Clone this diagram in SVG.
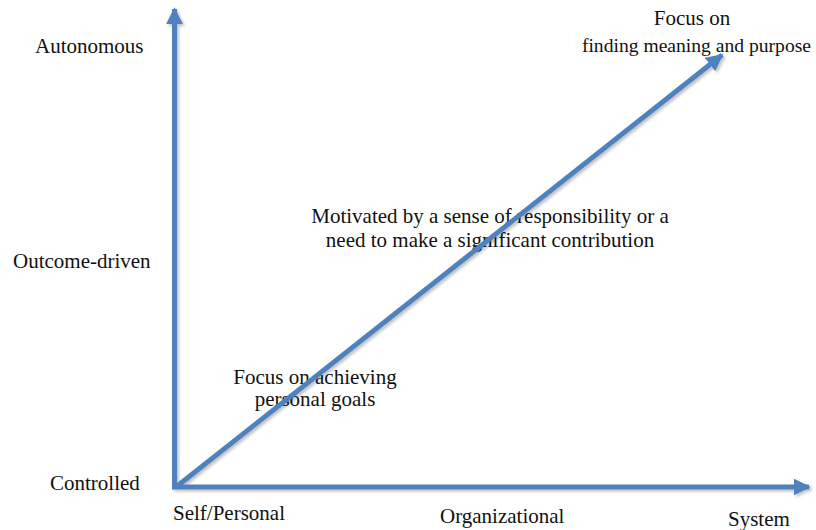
<svg xmlns="http://www.w3.org/2000/svg" width="816" height="530" viewBox="0 0 816 530">
  <style>
    .lbl { font-family: "Liberation Serif", "Times New Roman", serif; font-size: 21px; fill: #111; }
    .ax { stroke: #4F81BD; stroke-width: 5; fill: none; }
  </style>
  <defs>
    <marker id="head" viewBox="0 0 10 10" refX="9" refY="5" markerWidth="3.4" markerHeight="3.4" orient="auto" markerUnits="strokeWidth">
      <path d="M0,0 L10,5 L0,10 Z" fill="#4F81BD"/>
    </marker>
    <!-- faint drop shadow under the axis lines -->
    <filter id="soft" filterUnits="userSpaceOnUse" x="0" y="0" width="816" height="530">
      <feGaussianBlur in="SourceAlpha" stdDeviation="1.5"/>
      <feOffset dx="2" dy="2" result="b"/>
      <feComponentTransfer><feFuncA type="linear" slope="0.25"/></feComponentTransfer>
      <feMerge><feMergeNode/><feMergeNode in="SourceGraphic"/></feMerge>
    </filter>
  </defs>
  <rect width="816" height="530" fill="#fff"/>

  <!-- vertical scale labels -->
  <g id="autonomous"><text class="lbl" x="35" y="53">Autonomous</text></g>
  <g id="outcome-driven"><text class="lbl" x="13" y="268">Outcome-driven</text></g>
  <g id="controlled"><text class="lbl" x="50" y="490">Controlled</text></g>

  <!-- horizontal scale labels -->
  <g id="self-personal"><text class="lbl" x="173" y="520">Self/Personal</text></g>
  <g id="organizational"><text class="lbl" x="440" y="523">Organizational</text></g>
  <g id="system"><text class="lbl" x="728" y="526">System</text></g>

  <!-- stages along the diagonal -->
  <g id="stage-personal">
    <text class="lbl" x="315" y="384" text-anchor="middle">Focus on achieving</text>
    <text class="lbl" x="315" y="406" text-anchor="middle">personal goals</text>
  </g>
  <g id="stage-responsibility">
    <text class="lbl" x="490" y="223" text-anchor="middle">Motivated by a sense of responsibility or a</text>
    <text class="lbl" x="490" y="247" text-anchor="middle">need to make a significant contribution</text>
  </g>
  <g id="stage-meaning">
    <text class="lbl" x="692" y="25" text-anchor="middle">Focus on</text>
    <text class="lbl" x="811" y="52" text-anchor="end" style="font-size:19.6px">finding meaning and purpose</text>
  </g>

  <!-- axes and diagonal -->
  <g id="connectors" filter="url(#soft)">
    <line class="ax" x1="174.5" y1="489" x2="174.5" y2="9" marker-end="url(#head)"/>
    <line class="ax" x1="172" y1="487" x2="809" y2="487" marker-end="url(#head)"/>
    <line class="ax" x1="176" y1="487" x2="722" y2="55" marker-end="url(#head)"/>
  </g>
</svg>
